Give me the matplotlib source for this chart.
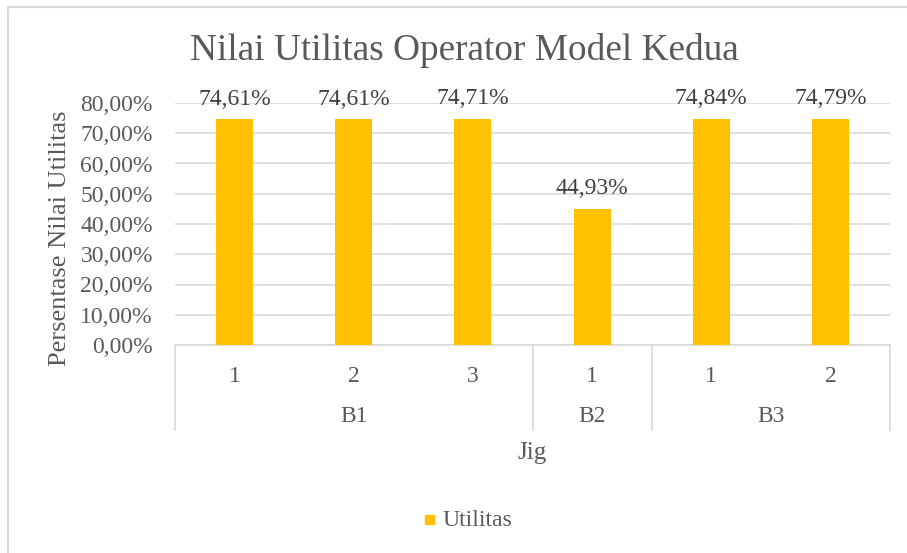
import matplotlib
matplotlib.use("Agg")
import matplotlib.pyplot as plt
from matplotlib.patches import Rectangle

jigs = ["1", "2", "3", "1", "1", "2"]
groups = ["B1", "B1", "B1", "B2", "B3", "B3"]
values = [74.61, 74.61, 74.71, 44.93, 74.84, 74.79]
yticks = [0, 10, 20, 30, 40, 50, 60, 70, 80]

W, H = 907, 553
plt.rcParams["font.family"] = ["Liberation Serif", "DejaVu Serif"]
fig = plt.figure(figsize=(W / 100, H / 100), dpi=100)

# outer chart border (cut off at right/bottom)
fig.patches.append(Rectangle((8 / W, -0.1), 2, (H - 7) / H + 0.1, transform=fig.transFigure,
                             fill=False, edgecolor="#d9d9d9", linewidth=1.5))

x0, x1, ytop, ybot = 175, 890, 103, 345
ax = fig.add_axes([x0 / W, (H - ybot) / H, (x1 - x0) / W, (ybot - ytop) / H])

n = len(values)
xs = list(range(n))
bars = ax.bar(xs, values, width=0.31, color="#ffc000", zorder=3)
ax.set_xlim(-0.5, n - 0.5)
ax.set_ylim(0, 80)
ax.set_yticks(yticks)
ax.set_yticklabels([f"{v:.2f}%".replace(".", ",") for v in yticks])
ax.tick_params(axis="y", length=0, pad=16, labelsize=17, labelcolor="#595959")
ax.set_xticks([])
ax.grid(axis="y", color="#d9d9d9", linewidth=1.2, zorder=0)
for s in ["left", "right", "top"]:
    ax.spines[s].set_visible(False)
ax.spines["bottom"].set_color("#d9d9d9")
ax.spines["bottom"].set_linewidth(1.2)

for b, v in zip(bars, values):
    ax.annotate(f"{v:.2f}%".replace(".", ","), (b.get_x() + b.get_width() / 2, v),
                xytext=(0, 7), textcoords="offset points", ha="center", va="bottom",
                fontsize=17, color="#404040")

# multi-level category axis
tr = ax.get_xaxis_transform()
h = ybot - ytop
ysep = -(430 - ybot) / h
y1 = -(376 - ybot) / h
y2 = -(417 - ybot) / h
bounds = [-0.5]
for i in range(1, n):
    if groups[i] != groups[i - 1]:
        bounds.append(i - 0.5)
bounds.append(n - 0.5)
for bx in bounds:
    ax.plot([bx, bx], [0, ysep], transform=tr, color="#d9d9d9", lw=1.2, clip_on=False)
for x, j in zip(xs, jigs):
    ax.text(x, y1, j, transform=tr, ha="center", va="center", fontsize=17, color="#595959")
for a, b in zip(bounds[:-1], bounds[1:]):
    g = groups[int(a + 0.5)]
    ax.text((a + b) / 2, y2, g, transform=tr, ha="center", va="center", fontsize=17, color="#595959")

ax.text(0.5, -(453 - ybot) / h, "Jig", transform=ax.transAxes, ha="center", va="center",
        fontsize=18, color="#595959")
fig.text(60 / W, 1 - 238 / H, "Persentase Nilai Utilitas", rotation=90, ha="center", va="center",
         fontsize=19, color="#595959")
fig.text(464 / W, 1 - 50 / H, "Nilai Utilitas Operator Model Kedua", ha="center", va="center",
         fontsize=26.8, color="#595959")

fig.patches.append(Rectangle((425 / W, 1 - 524 / H), 9 / W, 9 / H, transform=fig.transFigure,
                             color="#ffc000"))
fig.text(442 / W, 1 - 520 / H, "Utilitas", ha="left", va="center", fontsize=17, color="#595959")

fig.savefig("out.png", dpi=100)
